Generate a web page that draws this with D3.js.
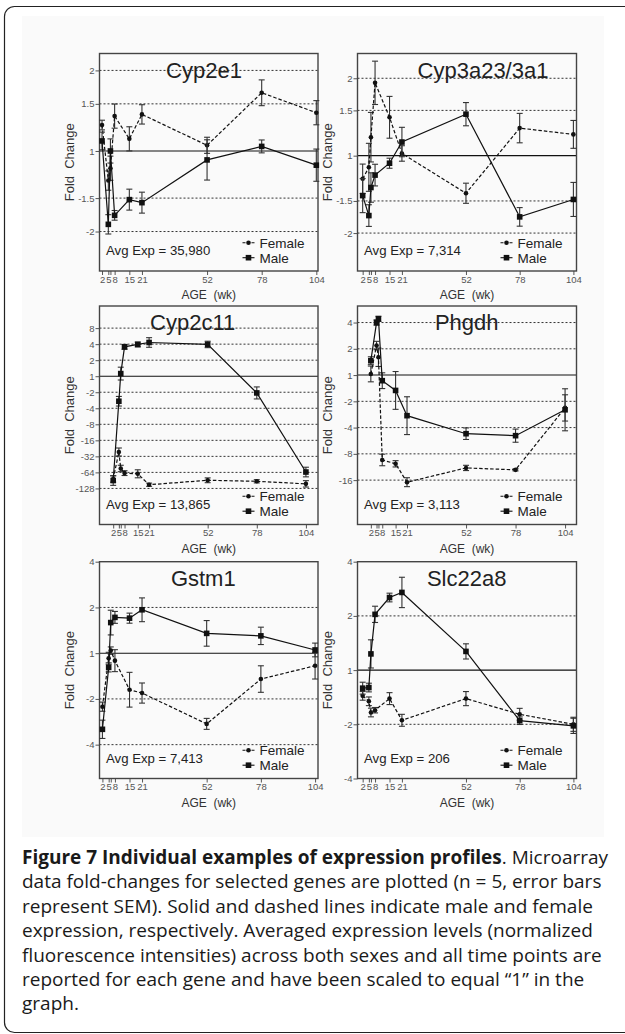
<!DOCTYPE html>
<html lang="en">
<head>
<meta charset="utf-8">
<title>Figure 7</title>
<script src="https://cdn.jsdelivr.net/npm/d3@7"></script>
<style>
  body { margin: 0; background: #fff; }
  svg text { font-family: "Liberation Sans", Arial, sans-serif; }
  .tick text { fill: #555; font-size: 9.5px; }
  .tick line { stroke: #555; }
  svg .caption text { font-family: "Open Sans", sans-serif; fill: #1a1a1a; }
</style>
</head>
<body>
<svg id="fig" width="625" height="1034"></svg>
<script>
// ages (weeks) sampled
var ages = [2, 5, 6, 8, 15, 21, 52, 78, 104];
var ageLabels = ["2", "5", "", "8", "15", "21", "52", "78", "104"];

var genes = ["Cyp2e1", "Cyp3a23/3a1", "Cyp2c11", "Phgdh", "Gstm1", "Slc22a8"];
var avgExp = ["35,980", "7,314", "13,865", "3,113", "7,413", "206"];

// fold change (negative = fold decrease); errors are SEM in log2 units
var cyp2e1Female = [1.25, -1.29, -1.16, 1.35, 1.11, 1.37, 1.05, 1.65, 1.39];
var cyp2e1FemaleErr = [0.06, 0.12, 0.15, 0.15, 0.15, 0.12, 0.1, 0.16, 0.15];
var cyp2e1Male = [1.09, -1.88, 1.0, -1.74, -1.52, -1.56, -1.08, 1.04, -1.13];
var cyp2e1MaleErr = [0.11, 0.12, 0.15, 0.06, 0.13, 0.13, 0.25, 0.08, 0.2];

var cyp3a23Female = [-1.23, -1.11, 1.18, 1.92, 1.41, 1.02, -1.4, 1.28, 1.21];
var cyp3a23FemaleErr = [0.19, 0.31, 0.32, 0.28, 0.27, 0.1, 0.13, 0.19, 0.18];
var cyp3a23Male = [-1.43, -1.71, -1.33, -1.19, -1.07, 1.13, 1.45, -1.73, -1.48];
var cyp3a23MaleErr = [0.22, 0.14, 0.19, 0.14, 0.065, 0.19, 0.15, 0.12, 0.22];

var cyp2c11Female = [-85, -26.5, -54, -66, -68, -109, -90, -94, -105];
var cyp2c11FemaleErr = [0.2, 0.25, 0.2, 0.15, 0.25, 0.1, 0.15, 0.1, 0.2];
var cyp2c11Male = [-91, -2.95, 1.12, 3.56, 3.95, 4.3, 3.95, -2.06, -63];
var cyp2c11MaleErr = [0.3, 0.3, 0.4, 0.15, 0.15, 0.3, 0.2, 0.375, 0.3];

var phgdhFemale = [1.03, 2.18, 1.6, -9.4, -10.4, -16.9, -11.6, -12.2, -2.38];
var phgdhFemaleErr = [0.3, 0.16, 0.35, 0.22, 0.12, 0.17, 0.1, 0.04, 0.5];
var phgdhMale = [1.46, 4.0, 4.41, -1.16, -1.5, -2.92, -4.7, -4.95, -2.5];
var phgdhMaleErr = [0.15, 0.1, 0.1, 0.3, 0.72, 0.72, 0.22, 0.25, 0.8];

var gstm1Female = [-2.25, -1.08, 1.04, -1.12, -1.74, -1.83, -2.92, -1.48, -1.21];
var gstm1FemaleErr = [0.1, 0.13, 0.08, 0.24, 0.38, 0.22, 0.12, 0.29, 0.29];
var gstm1Male = [-3.17, -1.24, 1.59, 1.72, 1.7, 1.93, 1.35, 1.3, 1.05];
var gstm1MaleErr = [0.2, 0.1, 0.27, 0.13, 0.11, 0.26, 0.28, 0.19, 0.15];

var slc22a8Female = [-1.39, -1.49, -1.72, -1.67, -1.44, -1.9, -1.44, -1.76, -2.0];
var slc22a8FemaleErr = [0.08, 0.08, 0.08, 0.05, 0.11, 0.11, 0.13, 0.11, 0.13];
var slc22a8Male = [-1.26, -1.25, 1.23, 2.04, 2.53, 2.7, 1.27, -1.91, -2.04];
var slc22a8MaleErr = [0.11, 0.08, 0.26, 0.15, 0.08, 0.28, 0.14, 0.07, 0.14];

// y tick labels (fold change) for each panel
var ticksSmall = [2, 1.5, 1, -1.5, -2];
var ticksCyp2c11 = [8, 4, 2, 1, -2, -4, -8, -16, -32, -64, -128];
var ticksPhgdh = [4, 2, 1, -2, -4, -8, -16];
var ticksFour = [4, 2, 1, -2, -4];

// panel table built from the arrays above
var panels = [
  {female: cyp2e1Female, fErr: cyp2e1FemaleErr, male: cyp2e1Male, mErr: cyp2e1MaleErr, ticks: ticksSmall},
  {female: cyp3a23Female, fErr: cyp3a23FemaleErr, male: cyp3a23Male, mErr: cyp3a23MaleErr, ticks: ticksSmall},
  {female: cyp2c11Female, fErr: cyp2c11FemaleErr, male: cyp2c11Male, mErr: cyp2c11MaleErr, ticks: ticksCyp2c11},
  {female: phgdhFemale, fErr: phgdhFemaleErr, male: phgdhMale, mErr: phgdhMaleErr, ticks: ticksPhgdh},
  {female: gstm1Female, fErr: gstm1FemaleErr, male: gstm1Male, mErr: gstm1MaleErr, ticks: ticksFour},
  {female: slc22a8Female, fErr: slc22a8FemaleErr, male: slc22a8Male, mErr: slc22a8MaleErr, ticks: ticksFour}
];

// layout: frame boxes, axis ranges (log2 for y), title centres
var cols = [[99.5, 318], [357.5, 576.5]];
var rows = [[53.5, 271], [306, 524.5], [561.7, 778.5]];
var xDomains = [[0.8, 104.8], [-0.5, 105.5], [-5.25, 110.4], [-5.0, 110.0], [0.6, 105.4], [-0.5, 105.5]];
var yDomains = [[-1.49, 1.21], [-1.49, 1.32], [-9.25, 4.38], [-5.69, 2.63], [-2.74, 2.0], [-2.0, 2.0]];
var titleX = [204, 483, 192.7, 466.7, 203.3, 466.7];

// signed fold change -> log2 position
function lg(f) { return f >= 0 ? Math.log2(f) : -Math.log2(-f); }

var svg = d3.select("#fig");

// outer rounded box and light figure background
svg.append("rect")
  .attr("x", 4.5).attr("y", 6.5).attr("width", 700).attr("height", 1026).attr("rx", 10)
  .attr("fill", "none").attr("stroke", "#222").attr("stroke-width", 1.2);
svg.append("rect")
  .attr("x", 22).attr("y", 16).attr("width", 582).attr("height", 821)
  .attr("fill", "#fafafa");

panels.forEach(function(p, i) {
  var c = cols[i % 2], r = rows[Math.floor(i / 2)];
  var x0 = c[0], x1 = c[1], y0 = r[0], y1 = r[1];

  var x = d3.scaleLinear().domain(xDomains[i]).range([x0, x1]);
  var y = d3.scaleLinear().domain(yDomains[i]).range([y1, y0]);

  var g = svg.append("g");

  // grid lines: solid at 1, dotted elsewhere
  g.selectAll(".grid")
    .data(p.ticks.filter(function(t) { var v = y(lg(t)); return v > y0 + 1 && v < y1 - 1; }))
    .enter().append("line")
      .attr("x1", x0).attr("x2", x1)
      .attr("y1", function(t) { return y(lg(t)); })
      .attr("y2", function(t) { return y(lg(t)); })
      .attr("stroke", function(t) { return t == 1 ? "#111" : "#333"; })
      .attr("stroke-width", function(t) { return t == 1 ? 1.1 : 1; })
      .attr("stroke-dasharray", function(t) { return t == 1 ? null : "2,2"; });

  // title
  g.append("text")
    .attr("x", titleX[i]).attr("y", y0 + 24)
    .attr("text-anchor", "middle")
    .attr("font-size", 22).attr("fill", "#222")
    .text(genes[i]);

  // axes
  var yAxis = g.append("g")
    .attr("transform", "translate(" + x0 + ",0)")
    .call(d3.axisLeft(y)
      .tickValues(p.ticks.map(lg))
      .tickFormat(function(d, k) { return p.ticks[k]; })
      .tickSize(4).tickPadding(1));
  yAxis.select(".domain").remove();

  var xAxis = g.append("g")
    .attr("transform", "translate(0," + y1 + ")")
    .call(d3.axisBottom(x)
      .tickValues(ages)
      .tickFormat(function(d, k) { return ageLabels[k]; })
      .tickSize(4).tickPadding(1));
  xAxis.select(".domain").remove();

  // frame
  g.append("rect")
    .attr("x", x0).attr("y", y0).attr("width", x1 - x0).attr("height", y1 - y0)
    .attr("fill", "none").attr("stroke", "#444").attr("stroke-width", 1.4);

  // axis labels
  g.append("text")
    .attr("transform", "translate(" + (x0 - 30) + "," + ((y0 + y1) / 2) + ") rotate(-90)")
    .attr("text-anchor", "middle").attr("dy", "0.35em")
    .attr("font-size", 13).attr("fill", "#333")
    .style("white-space", "pre")
    .text("Fold  Change");
  g.append("text")
    .attr("x", (x0 + x1) / 2).attr("y", y1 + 28)
    .attr("text-anchor", "middle")
    .attr("font-size", 12).attr("fill", "#333")
    .style("white-space", "pre")
    .text("AGE  (wk)");

  // series
  var series = [
    {vals: p.female, err: p.fErr, dash: "3.5,2", female: true},
    {vals: p.male, err: p.mErr, dash: null, female: false}
  ];

  series.forEach(function(s) {
    var pts = ages.map(function(a, k) { return {a: a, v: lg(s.vals[k]), e: s.err[k]}; });

    // error bars
    var eb = g.selectAll(null).data(pts).enter().append("g");
    eb.append("line")
      .attr("x1", function(d) { return x(d.a); }).attr("x2", function(d) { return x(d.a); })
      .attr("y1", function(d) { return y(d.v - d.e); }).attr("y2", function(d) { return y(d.v + d.e); })
      .attr("stroke", "#333").attr("stroke-width", 1.1);
    [-1, 1].forEach(function(sg) {
      eb.append("line")
        .attr("x1", function(d) { return x(d.a) - 3; }).attr("x2", function(d) { return x(d.a) + 3; })
        .attr("y1", function(d) { return y(d.v + sg * d.e); }).attr("y2", function(d) { return y(d.v + sg * d.e); })
        .attr("stroke", "#333").attr("stroke-width", 1.1);
    });

    g.append("path")
      .datum(pts)
      .attr("fill", "none").attr("stroke", "#111").attr("stroke-width", 1.2)
      .attr("stroke-dasharray", s.dash)
      .attr("d", d3.line().x(function(d) { return x(d.a); }).y(function(d) { return y(d.v); }));

    if (s.female) {
      g.selectAll(null).data(pts).enter().append("circle")
        .attr("cx", function(d) { return x(d.a); }).attr("cy", function(d) { return y(d.v); })
        .attr("r", 2.3).attr("fill", "#111");
    } else {
      g.selectAll(null).data(pts).enter().append("rect")
        .attr("x", function(d) { return x(d.a) - 2.8; }).attr("y", function(d) { return y(d.v) - 2.8; })
        .attr("width", 5.6).attr("height", 5.6).attr("fill", "#111");
    }
  });

  // Avg Exp note
  g.append("text")
    .attr("x", x0 + 6.5).attr("y", y1 - 16)
    .attr("font-size", 13.2).attr("fill", "#222")
    .text("Avg Exp = " + avgExp[i]);

  // legend
  var lx = x0 + 143, tx = x0 + 160;
  [["Female", y1 - 23.5, true], ["Male", y1 - 8.5, false]].forEach(function(l) {
    var cy = l[1] - 4.8;
    g.append("line")
      .attr("x1", lx).attr("x2", lx + 12).attr("y1", cy).attr("y2", cy)
      .attr("stroke", "#111").attr("stroke-width", 1.1)
      .attr("stroke-dasharray", l[2] ? "3,1.5" : null);
    if (l[2]) {
      g.append("circle").attr("cx", lx + 6).attr("cy", cy).attr("r", 2.3).attr("fill", "#111");
    } else {
      g.append("rect").attr("x", lx + 3.2).attr("y", cy - 2.8).attr("width", 5.6).attr("height", 5.6).attr("fill", "#111");
    }
    g.append("text")
      .attr("x", tx).attr("y", l[1])
      .attr("font-size", 13.5).attr("fill", "#222")
      .text(l[0]);
  });
});

// caption
var capLines = [
  "data fold-changes for selected genes are plotted (n = 5, error bars",
  "represent SEM). Solid and dashed lines indicate male and female",
  "expression, respectively. Averaged expression levels (normalized",
  "fluorescence intensities) across both sexes and all time points are",
  "reported for each gene and have been scaled to equal \u201c1\u201d in the",
  "graph."
];
var cap = svg.append("g").attr("class", "caption");

// size the caption font so the second line spans the text column
var probe = cap.append("text").attr("font-size", 16).text(capLines[0]);
var capSize = 16 * 580 / probe.node().getComputedTextLength();
probe.remove();

var first = cap.append("text").attr("x", 22).attr("y", 864).attr("font-size", capSize);
first.append("tspan").attr("font-weight", "bold").text("Figure 7 Individual examples of expression profiles");
first.append("tspan").text(". Microarray");
capLines.forEach(function(t, k) {
  cap.append("text").attr("x", 22).attr("y", 888.4 + k * 24.4).attr("font-size", capSize).text(t);
});
</script>
</body>
</html>
